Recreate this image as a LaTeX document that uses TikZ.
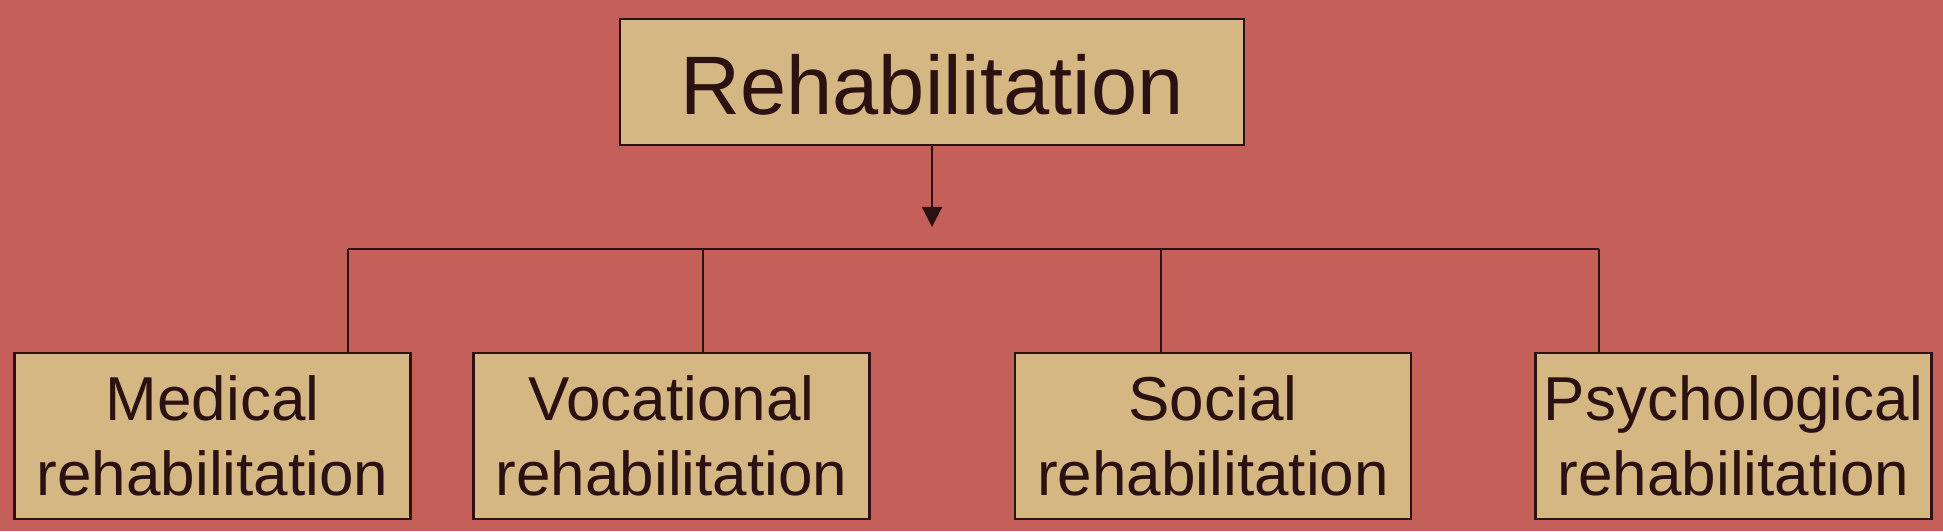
\documentclass[tikz,border=0pt]{standalone}
\usepackage{fontspec}
\setmainfont{Liberation Sans}
\usetikzlibrary{arrows.meta}
\definecolor{bgred}{HTML}{C45F5A}
\definecolor{boxtan}{HTML}{D5B784}
\definecolor{darkbrown}{HTML}{2B1111}
\tikzset{
  topbox/.style={draw=darkbrown, line width=2.5pt, fill=boxtan, text=darkbrown,
    inner sep=0pt, minimum width=624pt, minimum height=126pt,
    text height=66pt, text depth=0pt, font=\fontsize{83pt}{96pt}\selectfont},
  subbox/.style={draw=darkbrown, line width=2.5pt, fill=boxtan, text=darkbrown,
    inner sep=0pt, minimum width=396pt, minimum height=166pt, align=center,
    font=\fontsize{62pt}{75pt}\selectfont},
  conn/.style={draw=darkbrown, line width=2pt},
}
\begin{document}
\begin{tikzpicture}[x=1pt,y=1pt]
\fill[bgred] (0,0) rectangle (1943,531);
\useasboundingbox (0,0) rectangle (1943,531);
\node[topbox] (top) at (932,449) {Rehabilitation};
\node[subbox] (med) at (212.5,95) {Medical\\rehabilitation};
\node[subbox] (voc) at (671.5,95) {Vocational\\rehabilitation};
\node[subbox] (soc) at (1213,95) {Social\\rehabilitation};
\node[subbox] (psy) at (1733.5,95) {Psychological\\rehabilitation};
\coordinate (tip) at (932,304);
\coordinate (h1) at (348,282);
\coordinate (h2) at (703,282);
\coordinate (h3) at (1161,282);
\coordinate (h4) at (1599,282);
\draw[conn, -{Triangle[length=20pt,width=20pt]}] (top.south) -- (tip);
\draw[conn] (h1) -- (h4);
\draw[conn] (h1) -- (h1 |- med.north);
\draw[conn] (h2) -- (h2 |- voc.north);
\draw[conn] (h3) -- (h3 |- soc.north);
\draw[conn] (h4) -- (h4 |- psy.north);
\end{tikzpicture}
\end{document}
